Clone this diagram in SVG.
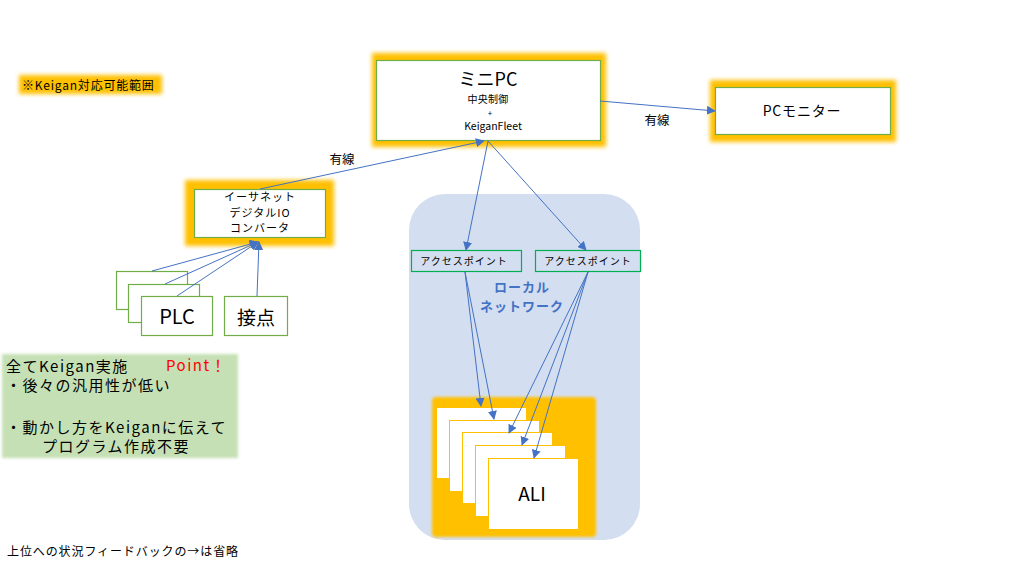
<svg xmlns="http://www.w3.org/2000/svg" width="1013" height="567" viewBox="0 0 1013 567">
<style>
text{font-family:"Noto Sans CJK JP","Noto Sans",sans-serif;fill:#000}
.box{fill:#fff;stroke:#70AD47;stroke-width:1.2}
.ap{fill:none;stroke:#00B050;stroke-width:1.2}
.glow{fill:#FFC000;filter:url(#blur)}
.card{fill:#fff;stroke:#FFC000;stroke-width:1}
.c{stroke:#4472C4;stroke-width:1;fill:none;marker-end:url(#arr)}
.m{text-anchor:middle}
.note{font-size:15px;letter-spacing:1.5px}
.ln{font-size:13px;font-weight:bold;letter-spacing:1px;text-anchor:middle;fill:#4472C4}
</style>
<defs>
<filter id="blur" x="-10%" y="-20%" width="120%" height="140%"><feGaussianBlur stdDeviation="2"/></filter>
<filter id="blur2" x="-10%" y="-10%" width="120%" height="120%"><feGaussianBlur stdDeviation="1.5"/></filter>
<marker id="arr" viewBox="0 0 10 10" refX="9" refY="5" markerWidth="9" markerHeight="9" markerUnits="userSpaceOnUse" orient="auto"><path d="M0,0 L10,5 L0,10 z" fill="#4472C4"/></marker>
</defs>
<rect width="1013" height="567" fill="#fff"/>

<g id="legend">
<rect x="19" y="75" width="143" height="19" class="glow"/>
<text x="22" y="90" font-size="12" letter-spacing="0.8">※Keigan対応可能範囲</text>
</g>

<g id="local-network">
<rect x="409" y="194" width="231" height="346" rx="36" fill="#D3DEF1"/>
<text x="522" y="292" class="ln">ローカル</text>
<text x="522" y="311" class="ln">ネットワーク</text>
</g>

<g id="mini-pc">
<rect x="372" y="53" width="234" height="94" class="glow"/>
<rect x="376.5" y="60.5" width="224" height="80" class="box"/>
<text x="488" y="86" font-size="18" class="m">ミニPC</text>
<text x="488" y="103" font-size="10" letter-spacing="0.3" class="m">中央制御</text>
<text x="490" y="115.5" font-size="8" class="m">+</text>
<text x="493" y="130" font-size="10.5" class="m">KeiganFleet</text>
</g>

<g id="pc-monitor">
<rect x="710" y="80" width="186" height="62" class="glow"/>
<rect x="715.5" y="87.5" width="175" height="47" class="box"/>
<text x="802" y="116" font-size="14" letter-spacing="0.8" class="m">PCモニター</text>
</g>

<g id="converter">
<rect x="185" y="180" width="149" height="66" class="glow"/>
<rect x="194.5" y="189.5" width="131" height="48" class="box"/>
<text x="260" y="201" font-size="11" letter-spacing="1" class="m">イーサネット</text>
<text x="260" y="216.5" font-size="11" letter-spacing="1" class="m">デジタルIO</text>
<text x="260" y="232" font-size="11" letter-spacing="1" class="m">コンバータ</text>
</g>

<g id="plc">
<rect x="116.5" y="271.5" width="71" height="38" class="box"/>
<rect x="128.5" y="284.5" width="71" height="38" class="box"/>
<rect x="141.5" y="296.5" width="71" height="39" class="box"/>
<text x="177" y="324" font-size="20" class="m">PLC</text>
</g>

<g id="contact">
<rect x="224.5" y="296.5" width="63" height="39" class="box"/>
<text x="256" y="325" font-size="19" class="m">接点</text>
</g>

<g id="ap-left">
<rect x="411.5" y="250.5" width="110" height="21" fill="#D3DEF1" class="ap"/>
<text x="464" y="264.5" font-size="10" letter-spacing="1" class="m">アクセスポイント</text>
</g>
<g id="ap-right">
<rect x="535.5" y="250.5" width="105" height="21" fill="#D3DEF1" class="ap"/>
<text x="588" y="264.5" font-size="10" letter-spacing="1" class="m">アクセスポイント</text>
</g>

<g id="ali">
<rect x="432" y="397" width="164" height="140" rx="4" fill="#FFC000" filter="url(#blur2)"/>
<rect x="436.5" y="407.5" width="90" height="71" class="card"/>
<rect x="449.5" y="420.5" width="90" height="71" class="card"/>
<rect x="462.5" y="432.5" width="90" height="71" class="card"/>
<rect x="475.5" y="445.5" width="90" height="71" class="card"/>
<rect x="488.5" y="458.5" width="90" height="71" class="card"/>
<text x="532" y="501" font-size="19" class="m">ALI</text>
</g>

<g id="point-note">
<rect x="2" y="354" width="236" height="104" fill="#C5E0B4" filter="url(#blur2)"/>
<text x="6" y="372" class="note">全てKeigan実施</text>
<text x="166" y="371" class="note" style="fill:#FF0000">Point！</text>
<text x="6" y="391" class="note">・後々の汎用性が低い</text>
<text x="6" y="433" class="note">・動かし方をKeiganに伝えて</text>
<text x="42" y="452" class="note">プログラム作成不要</text>
</g>

<g id="footnote">
<text x="7" y="556" font-size="12" letter-spacing="0.9">上位への状況フィードバックの→は省略</text>
</g>

<g id="connectors">
<line x1="600" y1="101" x2="715" y2="111" class="c"/>
<line x1="260" y1="189" x2="484" y2="141" class="c"/>
<line x1="488" y1="141" x2="466" y2="250" class="c"/>
<line x1="488" y1="141" x2="586" y2="250" class="c"/>
<line x1="152" y1="271" x2="258" y2="242" class="c"/>
<line x1="165" y1="284" x2="258" y2="242" class="c"/>
<line x1="177" y1="296" x2="258" y2="242" class="c"/>
<line x1="257" y1="296" x2="259" y2="242" class="c"/>
<line x1="465" y1="272" x2="481" y2="406" class="c"/>
<line x1="465" y1="272" x2="494" y2="419" class="c"/>
<line x1="588" y1="272" x2="509" y2="433" class="c"/>
<line x1="588" y1="272" x2="522" y2="445" class="c"/>
<line x1="588" y1="272" x2="534" y2="458" class="c"/>
<text x="342" y="164" font-size="12.5" class="m">有線</text>
<text x="657" y="125" font-size="12.5" class="m">有線</text>
</g>
</svg>
